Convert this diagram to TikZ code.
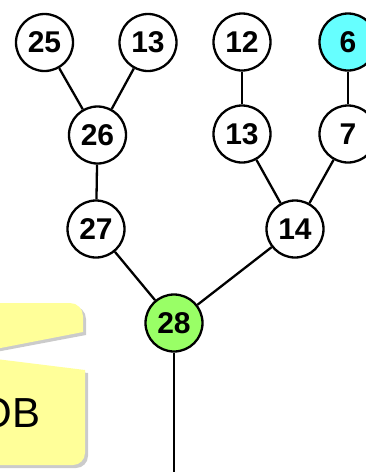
\documentclass[tikz,border=0pt]{standalone}
\usepackage{fontspec}
\setmainfont{Liberation Sans}
\definecolor{nodecyan}{HTML}{66FFFF}
\definecolor{nodegreen}{HTML}{99FF66}
\definecolor{noteyellow}{HTML}{FFFF99}
\begin{document}
\begin{tikzpicture}[x=1pt,y=-1pt,
  tn/.style={circle,draw=black,line width=2.3pt,fill=white,minimum size=57pt,inner sep=0pt,font=\fontsize{30}{33}\selectfont\bfseries},
  edge/.style={line width=2.3pt},
  shadowfill/.style={fill=black!45,opacity=.45}]
\useasboundingbox (0,0) rectangle (365,472);
% callout shapes (shadow first)
\fill[shadowfill] (-20,306) [rounded corners=13] -- (86,306) [sharp corners] -- (86,335) -- (-20,355) -- cycle;
\fill[shadowfill] (-20,360) -- (88,373) [rounded corners=12] -- (88,468) [sharp corners] -- (-20,468) -- cycle;
\fill[noteyellow] (-20,303) [rounded corners=13] -- (83,303) [sharp corners] -- (83,332) -- (-20,352) -- cycle;
\fill[noteyellow] (-20,357) -- (85,370) [rounded corners=12] -- (85,465) [sharp corners] -- (-20,465) -- cycle;
\node[anchor=base west,inner sep=0pt,font=\fontsize{42}{46}\selectfont] (txt) at (-20.5,427) {ОВ};
% nodes
\node[tn] (n25) at (44.5,42.5) {25};
\node[tn] (n13a) at (148,42.5) {13};
\node[tn] (n26) at (97.5,135) {26};
\node[tn] (n12) at (242,42) {12};
\node[tn,fill=nodecyan] (n6) at (348,42) {6};
\node[tn] (n13b) at (242,134) {13};
\node[tn] (n7) at (348,134) {7};
\node[tn] (n27) at (96,229) {27};
\node[tn] (n14) at (295,229) {14};
\node[tn,fill=nodegreen] (n28) at (174,323) {28};
\coordinate (bot) at (174,480);
% edges
\draw[edge] (n25) -- (n26);
\draw[edge] (n13a) -- (n26);
\draw[edge] (n26) -- (n27);
\draw[edge] (n27) -- (n28);
\draw[edge] (n12) -- (n13b);
\draw[edge] (n6) -- (n7);
\draw[edge] (n13b) -- (n14);
\draw[edge] (n7) -- (n14);
\draw[edge] (n14) -- (n28);
\draw[edge] (n28) -- (bot);
\end{tikzpicture}
\end{document}
